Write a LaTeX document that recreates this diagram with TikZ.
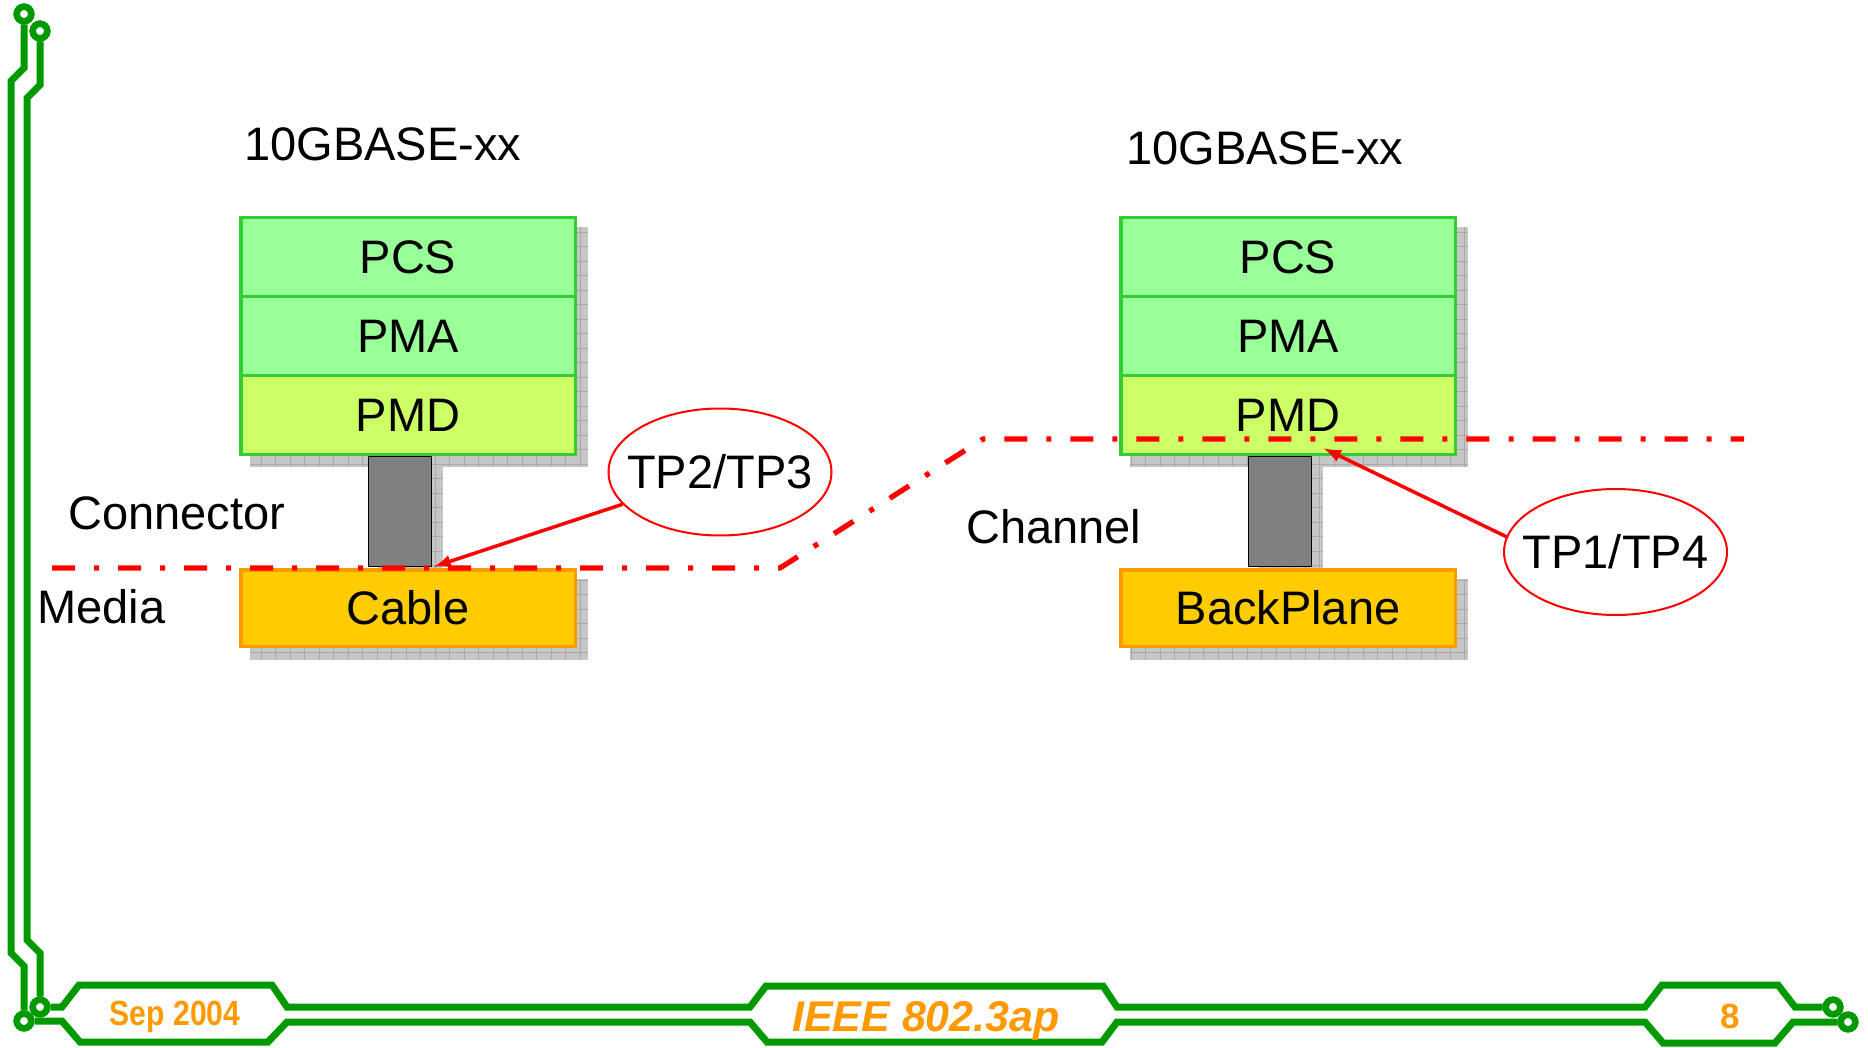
\documentclass[tikz,border=0pt]{standalone}
\usepackage{fontspec}
\setmainfont{Liberation Sans}
\usetikzlibrary{shapes.geometric,arrows.meta}
\definecolor{pcsfill}{HTML}{99FF99}
\definecolor{boxgreen}{HTML}{33CC33}
\definecolor{pmdfill}{HTML}{CCFF66}
\definecolor{cablefill}{HTML}{FFCC00}
\definecolor{cableedge}{HTML}{FF9900}
\definecolor{congray}{HTML}{808080}
\definecolor{shcol}{HTML}{C6C6C6}
\definecolor{shgrid}{HTML}{A8A8A8}
\definecolor{trackgreen}{HTML}{009900}
\definecolor{footorange}{HTML}{FF9900}
\newcommand{\bigfont}{\fontsize{47}{52}\selectfont}
\newcommand{\shbox}[2]{%
  \fill[shcol] #1 rectangle #2;
  \begin{scope}\clip #1 rectangle #2;
    \draw[shgrid, line width=0.7pt] #1 grid[step=14.5pt] #2;
  \end{scope}}
\begin{document}
\begin{tikzpicture}[x=1pt,y=-1pt,
  stackbox/.style={draw=boxgreen, line width=3.5pt, minimum width=334.5pt,
    minimum height=79pt, inner sep=0pt, font=\bigfont, text height=33.6pt, text depth=0pt},
  mediabox/.style={draw=cableedge, fill=cablefill, line width=3.5pt, minimum width=334.5pt,
    minimum height=76.5pt, inner sep=0pt, font=\bigfont, text height=33.6pt, text depth=0pt},
  connbox/.style={draw=black, fill=congray, line width=1.5pt, minimum width=63pt,
    minimum height=110pt, inner sep=0pt},
  tpell/.style={ellipse, draw=red, line width=2pt, inner sep=0pt, font=\bigfont,
    text height=33.6pt, text depth=0pt},
  lbl/.style={font=\bigfont, inner sep=0pt, anchor=base west},
  track/.style={draw=trackgreen, line width=7pt, line join=miter},
  via/.style={circle, draw=trackgreen, fill=white, line width=6.5pt, minimum size=14.5pt, inner sep=0pt},
  tparrow/.style={draw=red, line width=3.5pt, -{Latex[length=18pt,width=13pt]}},
  cut/.style={draw=red, line width=5.3pt, dash pattern=on 23pt off 19pt on 5pt off 19pt}
]
\useasboundingbox (0,0) rectangle (1868,1048);

% shadows
\shbox{(250,227)}{(588,467)}
\shbox{(250,579)}{(588,660)}
\shbox{(378,467)}{(443,579)}
\shbox{(1130,227)}{(1468,467)}
\shbox{(1130,579)}{(1468,660)}
\shbox{(1258,467)}{(1323,579)}

% connectors
\node[connbox] (conL) at (400,511.5) {};
\node[connbox] (conR) at (1280,511.5) {};

% left stack
\node[stackbox, fill=pcsfill] (pcsL) at (408,257) {PCS};
\node[stackbox, fill=pcsfill] (pmaL) at (408,336) {PMA};
\node[stackbox, fill=pmdfill] (pmdL) at (408,415) {PMD};
\node[mediabox] (cable) at (408,608) {Cable};

% right stack
\node[stackbox, fill=pcsfill] (pcsR) at (1288,257) {PCS};
\node[stackbox, fill=pcsfill] (pmaR) at (1288,336) {PMA};
\node[stackbox, fill=pmdfill] (pmdR) at (1288,415) {PMD};
\node[mediabox] (backplane) at (1288,608) {BackPlane};

% boundary line
\coordinate (cutA) at (52,568);
\coordinate (cutB) at (780,568);
\coordinate (cutC) at (983,439);
\coordinate (cutD) at (1744,439);
\draw[cut] (cutA) -- (cutB) -- (cutC) -- (cutD);

% test points
\node[tpell, minimum width=223pt, minimum height=127pt] (tp23) at (720,472) {\makebox[0pt]{TP2/TP3}};
\node[tpell, minimum width=223pt, minimum height=126pt] (tp14) at (1615.5,552) {\makebox[0pt]{TP1/TP4}};
\coordinate (tip23) at (433,567);
\coordinate (tip14) at (1323,448);
\draw[tparrow] (tp23) -- (tip23);
\draw[tparrow] (tp14.172) -- (tip14);

% labels
\node[lbl] (titleL) at (244,161) {10GBASE-xx};
\node[lbl] (titleR) at (1126,165) {10GBASE-xx};
\node[lbl] (lconn) at (68,529) {Connector};
\node[lbl] (lmedia) at (37,623) {Media};
\node[lbl] (lchan) at (966,543) {Channel};

% footer circuit
\node[via] (c1) at (24,14) {};
\node[via] (c2) at (40,31) {};
\node[via] (c3) at (40,1007) {};
\node[via] (c4) at (24,1021) {};
\node[via] (c5) at (1833,1007) {};
\node[via] (c6) at (1848,1022) {};
\draw[track] (c1) -- (24,68) -- (11,81) -- (11,953) -- (24,966) -- (c4);
\draw[track] (c2) -- (40,85) -- (27,98) -- (27,940) -- (40,953) -- (c3);
\draw[track] (c3) -- (62,1007) -- (79,985) -- (272,985) -- (287,1007) -- (750,1007)
  -- (766,986) -- (1103,986) -- (1117,1007) -- (1645,1007) -- (1662,985)
  -- (1778,985) -- (1795,1007) -- (c5);
\draw[track] (c4) -- (62,1021) -- (80,1042) -- (268,1042) -- (287,1022) -- (750,1022)
  -- (767,1042) -- (1102,1042) -- (1117,1022) -- (1645,1022) -- (1663,1043)
  -- (1775,1043) -- (1793,1022) -- (c6);
\node[via] at (c1) {};
\node[via] at (c2) {};
\node[via] at (c3) {};
\node[via] at (c4) {};
\node[via] at (c5) {};
\node[via] at (c6) {};

\node[inner sep=0pt, anchor=base, text=footorange, font=\fontsize{35}{40}\selectfont\bfseries] (date) at (175,1025) {\scalebox{0.86}[1]{Sep 2004}};
\node[inner sep=0pt, anchor=base, text=footorange, font=\fontsize{43}{48}\selectfont\bfseries\itshape] (std) at (926,1031) {IEEE 802.3ap};
\node[inner sep=0pt, anchor=base, text=footorange, font=\fontsize{35}{40}\selectfont\bfseries] (page) at (1730,1028) {8};
\end{tikzpicture}
\end{document}
